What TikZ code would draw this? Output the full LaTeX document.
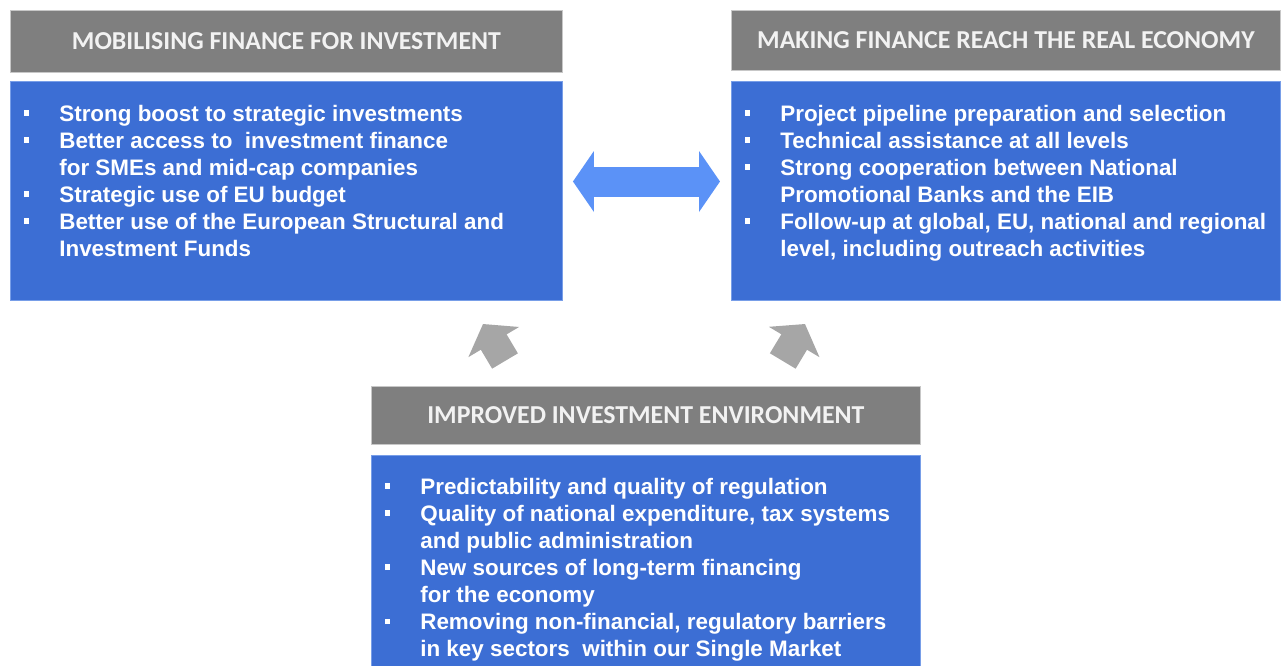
\documentclass[tikz,border=0pt]{standalone}
\usepackage{fontspec}
\setmainfont{Liberation Sans}
\newfontfamily\headfont{Carlito}
\usepackage{array}
\usetikzlibrary{calc}
\usetikzlibrary{arrows.meta}

\definecolor{hdgray}{RGB}{127,127,127}
\definecolor{hdtext}{RGB}{242,242,242}
\definecolor{bdblue}{RGB}{60,110,212}
\definecolor{bdedge}{RGB}{120,158,232}
\definecolor{dblblue}{RGB}{91,146,247}
\definecolor{upgray}{RGB}{166,166,166}

\newcommand{\sqb}{\rule[3pt]{3.2pt}{3.2pt}}

\begin{document}
\begin{tikzpicture}[x=0.02cm, y=-0.02cm,
  headbox/.style={fill=hdgray, draw=black!22, line width=0.5pt, inner sep=0pt, text=hdtext,
    anchor=north west, font=\headfont\bfseries\fontsize{14.7}{17}\selectfont},
  bodybox/.style={fill=bdblue, draw=bdedge, line width=0.6pt, inner sep=0pt, anchor=north west},
  bodytext/.style={inner sep=0pt, text=white, anchor=base west,
    font=\bfseries\fontsize{12.76}{15.42}\selectfont},
  blockarrow/.style={line width=0.6cm, dblblue,
    {Triangle[length=0.42cm,width=1.2cm]}-{Triangle[length=0.42cm,width=1.2cm]}},
  uparrow/.style={line width=0.6cm, upgray, -{Triangle[length=0.42cm,width=1.16cm]}}
]
  \useasboundingbox (0,0) rectangle (1282,666);

  \node[headbox, minimum width=11.04cm, minimum height=1.24cm] (lhead) at (10,10)  {MOBILISING FINANCE FOR INVESTMENT};
  \node[bodybox, minimum width=11.04cm, minimum height=4.38cm] (lbody) at (10,81)  {};
  \node[headbox, minimum width=10.98cm, minimum height=1.2cm]  (rhead) at (731,10) {MAKING FINANCE REACH THE REAL ECONOMY};
  \node[bodybox, minimum width=10.98cm, minimum height=4.38cm] (rbody) at (731,81) {};
  \node[headbox, minimum width=10.98cm, minimum height=1.16cm] (bhead) at (371,386) {IMPROVED INVESTMENT ENVIRONMENT};
  \node[bodybox, minimum width=10.98cm, minimum height=4.22cm] (bbody) at (371,455) {};

  \node[bodytext] (ltext) at ($(lbody.north west)+(13.5,40)$) {\begin{tabular}[t]{@{}p{0.71cm}@{}l@{}}
    \sqb & Strong boost to strategic investments\\
    \sqb & Better access to~ investment finance\\
         & for SMEs and mid-cap companies\\
    \sqb & Strategic use of EU budget\\
    \sqb & Better use of the European Structural and\\
         & Investment Funds
  \end{tabular}};
  \node[bodytext] (rtext) at ($(rbody.north west)+(13.5,40)$) {\begin{tabular}[t]{@{}p{0.71cm}@{}l@{}}
    \sqb & Project pipeline preparation and selection\\
    \sqb & Technical assistance at all levels\\
    \sqb & Strong cooperation between National\\
         & Promotional Banks and the EIB\\
    \sqb & Follow-up at global, EU, national and regional\\
         & level, including outreach activities
  \end{tabular}};
  \node[bodytext] (btext) at ($(bbody.north west)+(13.5,39)$) {\begin{tabular}[t]{@{}p{0.71cm}@{}l@{}}
    \sqb & Predictability and quality of regulation\\
    \sqb & Quality of national expenditure, tax systems\\
         & and public administration\\
    \sqb & New sources of long-term financing\\
         & for the economy\\
    \sqb & Removing non-financial, regulatory barriers\\
         & in key sectors~ within our Single Market
  \end{tabular}};

  \draw[blockarrow] ($(lbody.east)+(10,-9.5)$) -- ($(rbody.west)+(-11,-9.5)$);
  \draw[uparrow] ($(bhead.north west)+(134,-25)$) -- ($(lbody.south west)+(473,23)$);
  \draw[uparrow] ($(bhead.north east)+(-138,-25)$) -- ($(rbody.south west)+(74,23)$);
\end{tikzpicture}
\end{document}
